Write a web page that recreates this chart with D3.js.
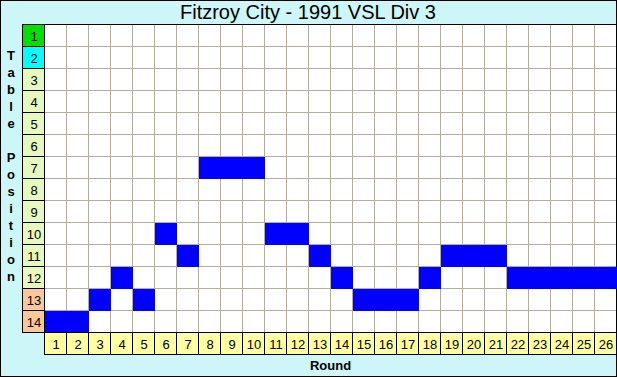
<!DOCTYPE html>
<html>
<head>
<meta charset="utf-8">
<script src="https://cdn.jsdelivr.net/npm/d3@7"></script>
<style>
  body { margin: 0; background: #fff; }
  svg text { font-family: Arial, "Liberation Sans", sans-serif; }
</style>
</head>
<body>
<div id="chart"></div>
<script>
// league position after each round
const rounds = d3.range(1, 27);
const positions = [14, 14, 13, 12, 13, 10, 11, 7, 7, 7, 10, 10, 11, 12, 13, 13, 13, 12, 11, 11, 11, 12, 12, 12, 12, 12];
const tablePlaces = d3.range(1, 15);
const placeColors = ["#00e000", "#00ffff", "#e6f8bc", "#e6f8bc", "#e6f8bc", "#e6f8bc", "#e6f8bc",
                     "#e6f8bc", "#e6f8bc", "#e6f8bc", "#e6f8bc", "#e6f8bc", "#f8c898", "#f8c898"];
const title = "Fitzroy City - 1991 VSL Div 3";

const W = 617, H = 377;
const margin = { top: 24, right: 1, bottom: 45, left: 44 };

const svg = d3.select("#chart").append("svg")
    .attr("width", W)
    .attr("height", H);

// background + frame
svg.append("rect")
    .attr("x", 0.5).attr("y", 0.5)
    .attr("width", W - 1).attr("height", H - 1)
    .attr("fill", "#ccf6f8")
    .attr("stroke", "#000");

// scales
const x = d3.scaleBand()
    .domain(rounds)
    .range([margin.left, W - margin.right]);

const y = d3.scaleBand()
    .domain(tablePlaces)
    .range([margin.top, H - margin.bottom]);

const bw = x.bandwidth(), bh = y.bandwidth();

// plot area
svg.append("rect")
    .attr("x", margin.left).attr("y", margin.top)
    .attr("width", W - margin.right - margin.left)
    .attr("height", y.range()[1] - margin.top)
    .attr("fill", "#fff");

// grid lines
svg.append("g").selectAll("line.v")
    .data(rounds.slice(1))
    .join("line")
    .attr("x1", d => x(d) + 0.5).attr("x2", d => x(d) + 0.5)
    .attr("y1", margin.top).attr("y2", y.range()[1])
    .attr("stroke", "#b4ac9c");

svg.append("g").selectAll("line.h")
    .data(tablePlaces.slice(1))
    .join("line")
    .attr("x1", margin.left).attr("x2", W - margin.right)
    .attr("y1", d => y(d) + 0.5).attr("y2", d => y(d) + 0.5)
    .attr("stroke", "#b4ac9c");

// position marks
svg.append("g").selectAll("rect")
    .data(rounds)
    .join("rect")
    .attr("x", d => x(d) + 1)
    .attr("y", (d, i) => y(positions[i]) + 1)
    .attr("width", bw)
    .attr("height", bh)
    .attr("fill", "#0000ff");

// top edge of plot
svg.append("line")
    .attr("x1", margin.left - bw).attr("x2", W)
    .attr("y1", margin.top + 0.5).attr("y2", margin.top + 0.5)
    .attr("stroke", "#000");

// left axis: table places
const yCells = svg.append("g").selectAll("g")
    .data(tablePlaces)
    .join("g")
    .attr("transform", d => "translate(" + (margin.left - bw) + "," + y(d) + ")");

yCells.append("rect")
    .attr("x", 0.5).attr("y", 0.5)
    .attr("width", bw).attr("height", bh)
    .attr("fill", (d, i) => placeColors[i])
    .attr("stroke", "#000");

yCells.append("text")
    .attr("x", bw / 2 + 1).attr("y", bh / 2 + 6)
    .attr("text-anchor", "middle")
    .attr("font-size", 13)
    .text(d => d);

// bottom axis: rounds
const xCells = svg.append("g").selectAll("g")
    .data(rounds)
    .join("g")
    .attr("transform", d => "translate(" + x(d) + "," + y.range()[1] + ")");

xCells.append("rect")
    .attr("x", 0.5).attr("y", 0.5)
    .attr("width", bw).attr("height", bh)
    .attr("fill", "#ffffa0")
    .attr("stroke", "#000");

xCells.append("text")
    .attr("x", bw / 2 + 1).attr("y", bh / 2 + 6)
    .attr("text-anchor", "middle")
    .attr("font-size", 13)
    .text(d => d);

// title
svg.append("text")
    .attr("x", 308).attr("y", 19)
    .attr("text-anchor", "middle")
    .attr("font-size", 20)
    .text(title);

// axis titles
svg.append("text")
    .attr("x", (margin.left + W) / 2).attr("y", 370)
    .attr("text-anchor", "middle")
    .attr("font-size", 13)
    .attr("font-weight", "bold")
    .text("Round");

const yTitle = "Table Position".split("");
svg.append("g").selectAll("text")
    .data(yTitle)
    .join("text")
    .attr("x", 11)
    .attr("y", (d, i) => 60 + i * 17)
    .attr("text-anchor", "middle")
    .attr("font-size", 13)
    .attr("font-weight", "bold")
    .text(d => d);
</script>
</body>
</html>
